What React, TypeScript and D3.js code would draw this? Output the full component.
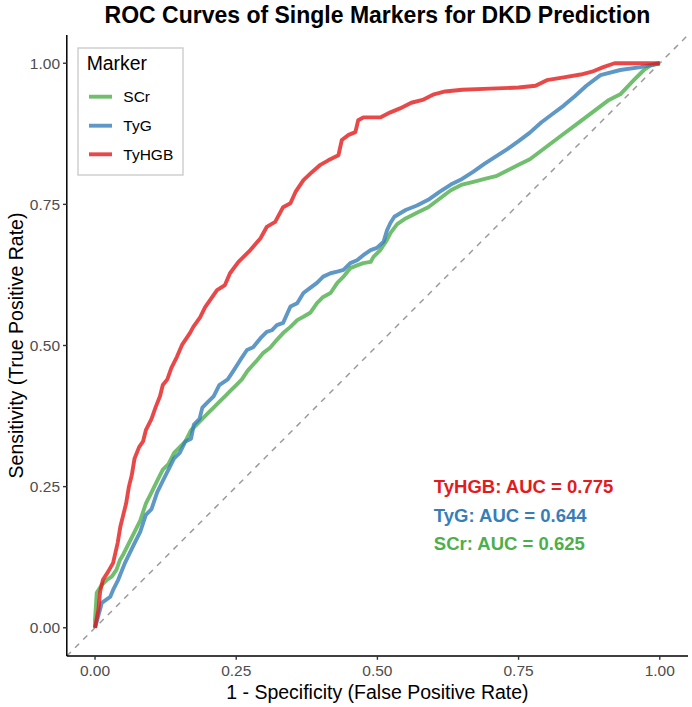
import React from 'react';
import * as d3 from 'd3';

// Series definitions
const markers = ['SCr', 'TyG', 'TyHGB'];
const baseColors = ['#4DAF4A', '#377EB8', '#E41A1C'];
const aucValues = [0.625, 0.644, 0.775];
const tickValues = [0, 0.25, 0.5, 0.75, 1];

// ROC coordinates: false positive rate / true positive rate
const scrFpr = [0, 0, 0.003, 0.012, 0.021, 0.03, 0.038, 0.044, 0.05, 0.06, 0.07, 0.08, 0.09, 0.1, 0.11, 0.12, 0.13, 0.14, 0.15, 0.16, 0.17, 0.18, 0.19, 0.2, 0.21, 0.22, 0.23, 0.24, 0.25, 0.26, 0.27, 0.287, 0.298, 0.31, 0.322, 0.333, 0.346, 0.358, 0.369, 0.381, 0.393, 0.404, 0.417, 0.429, 0.44, 0.452, 0.464, 0.475, 0.488, 0.493, 0.505, 0.517, 0.523, 0.535, 0.55, 0.57, 0.59, 0.61, 0.63, 0.65, 0.67, 0.69, 0.71, 0.73, 0.75, 0.77, 0.79, 0.81, 0.83, 0.85, 0.87, 0.89, 0.91, 0.93, 0.954, 0.972, 0.984, 1];
const scrTpr = [0, 0.014, 0.062, 0.076, 0.085, 0.091, 0.103, 0.12, 0.13, 0.15, 0.17, 0.19, 0.22, 0.24, 0.26, 0.28, 0.29, 0.31, 0.32, 0.33, 0.35, 0.36, 0.37, 0.38, 0.39, 0.4, 0.41, 0.42, 0.43, 0.44, 0.455, 0.474, 0.487, 0.496, 0.51, 0.522, 0.533, 0.545, 0.551, 0.558, 0.575, 0.586, 0.593, 0.611, 0.622, 0.637, 0.642, 0.646, 0.648, 0.657, 0.669, 0.687, 0.699, 0.715, 0.725, 0.735, 0.745, 0.76, 0.775, 0.785, 0.79, 0.795, 0.8, 0.81, 0.82, 0.83, 0.845, 0.86, 0.875, 0.89, 0.905, 0.92, 0.935, 0.945, 0.97, 0.988, 0.996, 1];

const tygFpr = [0, 0.012, 0.027, 0.032, 0.041, 0.053, 0.07, 0.08, 0.09, 0.1, 0.11, 0.12, 0.13, 0.14, 0.15, 0.16, 0.17, 0.175, 0.185, 0.19, 0.2, 0.21, 0.22, 0.235, 0.245, 0.257, 0.269, 0.28, 0.293, 0.304, 0.313, 0.322, 0.333, 0.346, 0.358, 0.369, 0.381, 0.393, 0.404, 0.417, 0.429, 0.44, 0.452, 0.464, 0.475, 0.488, 0.499, 0.511, 0.517, 0.523, 0.53, 0.55, 0.57, 0.59, 0.61, 0.63, 0.65, 0.67, 0.69, 0.71, 0.73, 0.75, 0.77, 0.79, 0.81, 0.83, 0.85, 0.87, 0.895, 0.93, 0.966, 1];
const tygTpr = [0, 0.044, 0.055, 0.067, 0.085, 0.115, 0.15, 0.17, 0.2, 0.21, 0.24, 0.26, 0.28, 0.3, 0.31, 0.33, 0.335, 0.36, 0.37, 0.39, 0.4, 0.41, 0.43, 0.44, 0.455, 0.474, 0.492, 0.497, 0.513, 0.524, 0.527, 0.536, 0.54, 0.569, 0.575, 0.593, 0.602, 0.611, 0.622, 0.628, 0.631, 0.634, 0.646, 0.651, 0.66, 0.669, 0.673, 0.684, 0.704, 0.717, 0.728, 0.74, 0.748, 0.758, 0.772, 0.785, 0.795, 0.808, 0.822, 0.835, 0.848, 0.862, 0.877, 0.895, 0.91, 0.925, 0.942, 0.96, 0.979, 0.988, 0.993, 1];

const tyhgbFpr = [0, 0.006, 0.009, 0.014, 0.023, 0.032, 0.04, 0.045, 0.05, 0.055, 0.06, 0.065, 0.07, 0.078, 0.085, 0.09, 0.1, 0.107, 0.115, 0.12, 0.128, 0.135, 0.145, 0.154, 0.168, 0.174, 0.186, 0.195, 0.216, 0.23, 0.239, 0.254, 0.275, 0.293, 0.304, 0.319, 0.333, 0.346, 0.355, 0.369, 0.384, 0.399, 0.413, 0.431, 0.437, 0.449, 0.461, 0.466, 0.475, 0.505, 0.523, 0.54, 0.56, 0.58, 0.6, 0.62, 0.65, 0.7, 0.75, 0.78, 0.8, 0.83, 0.86, 0.88, 0.9, 0.92, 1];
const tyhgbTpr = [0, 0.032, 0.064, 0.085, 0.099, 0.115, 0.15, 0.18, 0.2, 0.22, 0.25, 0.27, 0.3, 0.32, 0.33, 0.35, 0.37, 0.39, 0.41, 0.43, 0.44, 0.46, 0.48, 0.501, 0.522, 0.533, 0.55, 0.568, 0.598, 0.607, 0.628, 0.648, 0.669, 0.69, 0.71, 0.719, 0.745, 0.752, 0.772, 0.793, 0.807, 0.82, 0.828, 0.837, 0.864, 0.873, 0.878, 0.899, 0.904, 0.904, 0.913, 0.92, 0.93, 0.935, 0.945, 0.95, 0.953, 0.955, 0.957, 0.96, 0.97, 0.975, 0.98, 0.985, 0.993, 1, 1];

const FONT = '"Liberation Sans", Arial, Helvetica, sans-serif';

export default function App() {
  const W = 692;
  const H = 707;
  const panel = { left: 66.8, right: 688, top: 35, bottom: 656 };

  const x = d3.scaleLinear().domain([-0.05, 1.05]).range([panel.left, panel.right]);
  const y = d3.scaleLinear().domain([-0.05, 1.05]).range([panel.bottom, panel.top]);

  const line = d3
    .line<[number, number]>()
    .x((d) => x(d[0]))
    .y((d) => y(d[1]));

  const series = [
    { fpr: scrFpr, tpr: scrTpr },
    { fpr: tygFpr, tpr: tygTpr },
    { fpr: tyhgbFpr, tpr: tyhgbTpr },
  ].map((s, i) => ({
    name: markers[i],
    color: baseColors[i],
    auc: aucValues[i],
    points: s.fpr.map((f, j) => [f, s.tpr[j]] as [number, number]),
  }));

  const tickFmt = d3.format('.2f');
  const tickLen = 3.8;

  // AUC annotation rows (top row = last series)
  const annotY = [0.15, 0.2, 0.25];

  // Legend geometry
  const lg = { x: 78, y: 48, w: 105, h: 127 };
  const keyY = [96.7, 125.7, 154.3];

  return (
    <svg
      width={W}
      height={H}
      viewBox={`0 0 ${W} ${H}`}
      style={{ position: 'absolute', left: 0, top: 0, background: '#fff' }}
      fontFamily={FONT}
    >
      <defs>
        <clipPath id="panel-clip">
          <rect x={panel.left} y={panel.top} width={panel.right - panel.left} height={panel.bottom - panel.top} />
        </clipPath>
      </defs>
      <rect x={0} y={0} width={W} height={H} fill="#fff" />

      {/* Title */}
      <text
        x={(panel.left + panel.right) / 2}
        y={23}
        textAnchor="middle"
        fontSize={23}
        fontWeight="bold"
        fill="#000"
      >
        ROC Curves of Single Markers for DKD Prediction
      </text>

      <g clipPath="url(#panel-clip)">
        {/* Reference diagonal */}
        <line
          x1={x(-0.05)}
          y1={y(-0.05)}
          x2={x(1.05)}
          y2={y(1.05)}
          stroke="#999999"
          strokeWidth={1.45}
          strokeDasharray="5.8 5.8"
        />
        {series.map((s) => (
          <path
            key={s.name}
            d={line(s.points) || ''}
            fill="none"
            stroke={s.color}
            strokeOpacity={0.8}
            strokeWidth={3.9}
            strokeLinejoin="round"
          />
        ))}
      </g>

      {/* AUC annotations */}
      {series.map((s, i) => (
        <text
          key={s.name + '-auc'}
          x={x(0.6)}
          y={y(annotY[i])}
          dy="0.36em"
          fontSize={18.5}
          fontWeight="bold"
          fill={s.color}
        >
          {`${s.name}: AUC = ${s.auc.toFixed(3)}`}
        </text>
      ))}

      {/* Axes */}
      <line x1={panel.left} y1={panel.top} x2={panel.left} y2={panel.bottom} stroke="#000" strokeWidth={1.5} />
      <line x1={panel.left} y1={panel.bottom} x2={panel.right} y2={panel.bottom} stroke="#000" strokeWidth={1.5} />

      {tickValues.map((t) => (
        <g key={'x' + t}>
          <line x1={x(t)} x2={x(t)} y1={panel.bottom} y2={panel.bottom + tickLen} stroke="#333" strokeWidth={1.4} />
          <text x={x(t)} y={676} textAnchor="middle" fontSize={15.5} fill="#4D4D4D">
            {tickFmt(t)}
          </text>
        </g>
      ))}
      {tickValues.map((t) => (
        <g key={'y' + t}>
          <line x1={panel.left - tickLen} x2={panel.left} y1={y(t)} y2={y(t)} stroke="#333" strokeWidth={1.4} />
          <text x={panel.left - tickLen - 3} y={y(t)} dy="0.36em" textAnchor="end" fontSize={15.5} fill="#4D4D4D">
            {tickFmt(t)}
          </text>
        </g>
      ))}

      {/* Axis titles */}
      <text x={(panel.left + panel.right) / 2} y={699} textAnchor="middle" fontSize={19.5} fill="#000">
        1 - Specificity (False Positive Rate)
      </text>
      <text
        transform={`translate(${23}, ${(panel.top + panel.bottom) / 2}) rotate(-90)`}
        textAnchor="middle"
        fontSize={19.5}
        fill="#000"
      >
        Sensitivity (True Positive Rate)
      </text>

      {/* Legend */}
      <g>
        <rect x={lg.x} y={lg.y} width={lg.w} height={lg.h} fill="#fff" stroke="#cccccc" strokeWidth={1.4} />
        <text x={86.7} y={70} fontSize={19.4} fill="#000">
          Marker
        </text>
        {series.map((s, i) => (
          <g key={s.name + '-key'}>
            <line
              x1={89}
              x2={112}
              y1={keyY[i]}
              y2={keyY[i]}
              stroke={s.color}
              strokeOpacity={0.8}
              strokeWidth={3.9}
            />
            <text x={123.3} y={keyY[i]} dy="0.36em" fontSize={15.5} fill="#000">
              {s.name}
            </text>
          </g>
        ))}
      </g>
    </svg>
  );
}
